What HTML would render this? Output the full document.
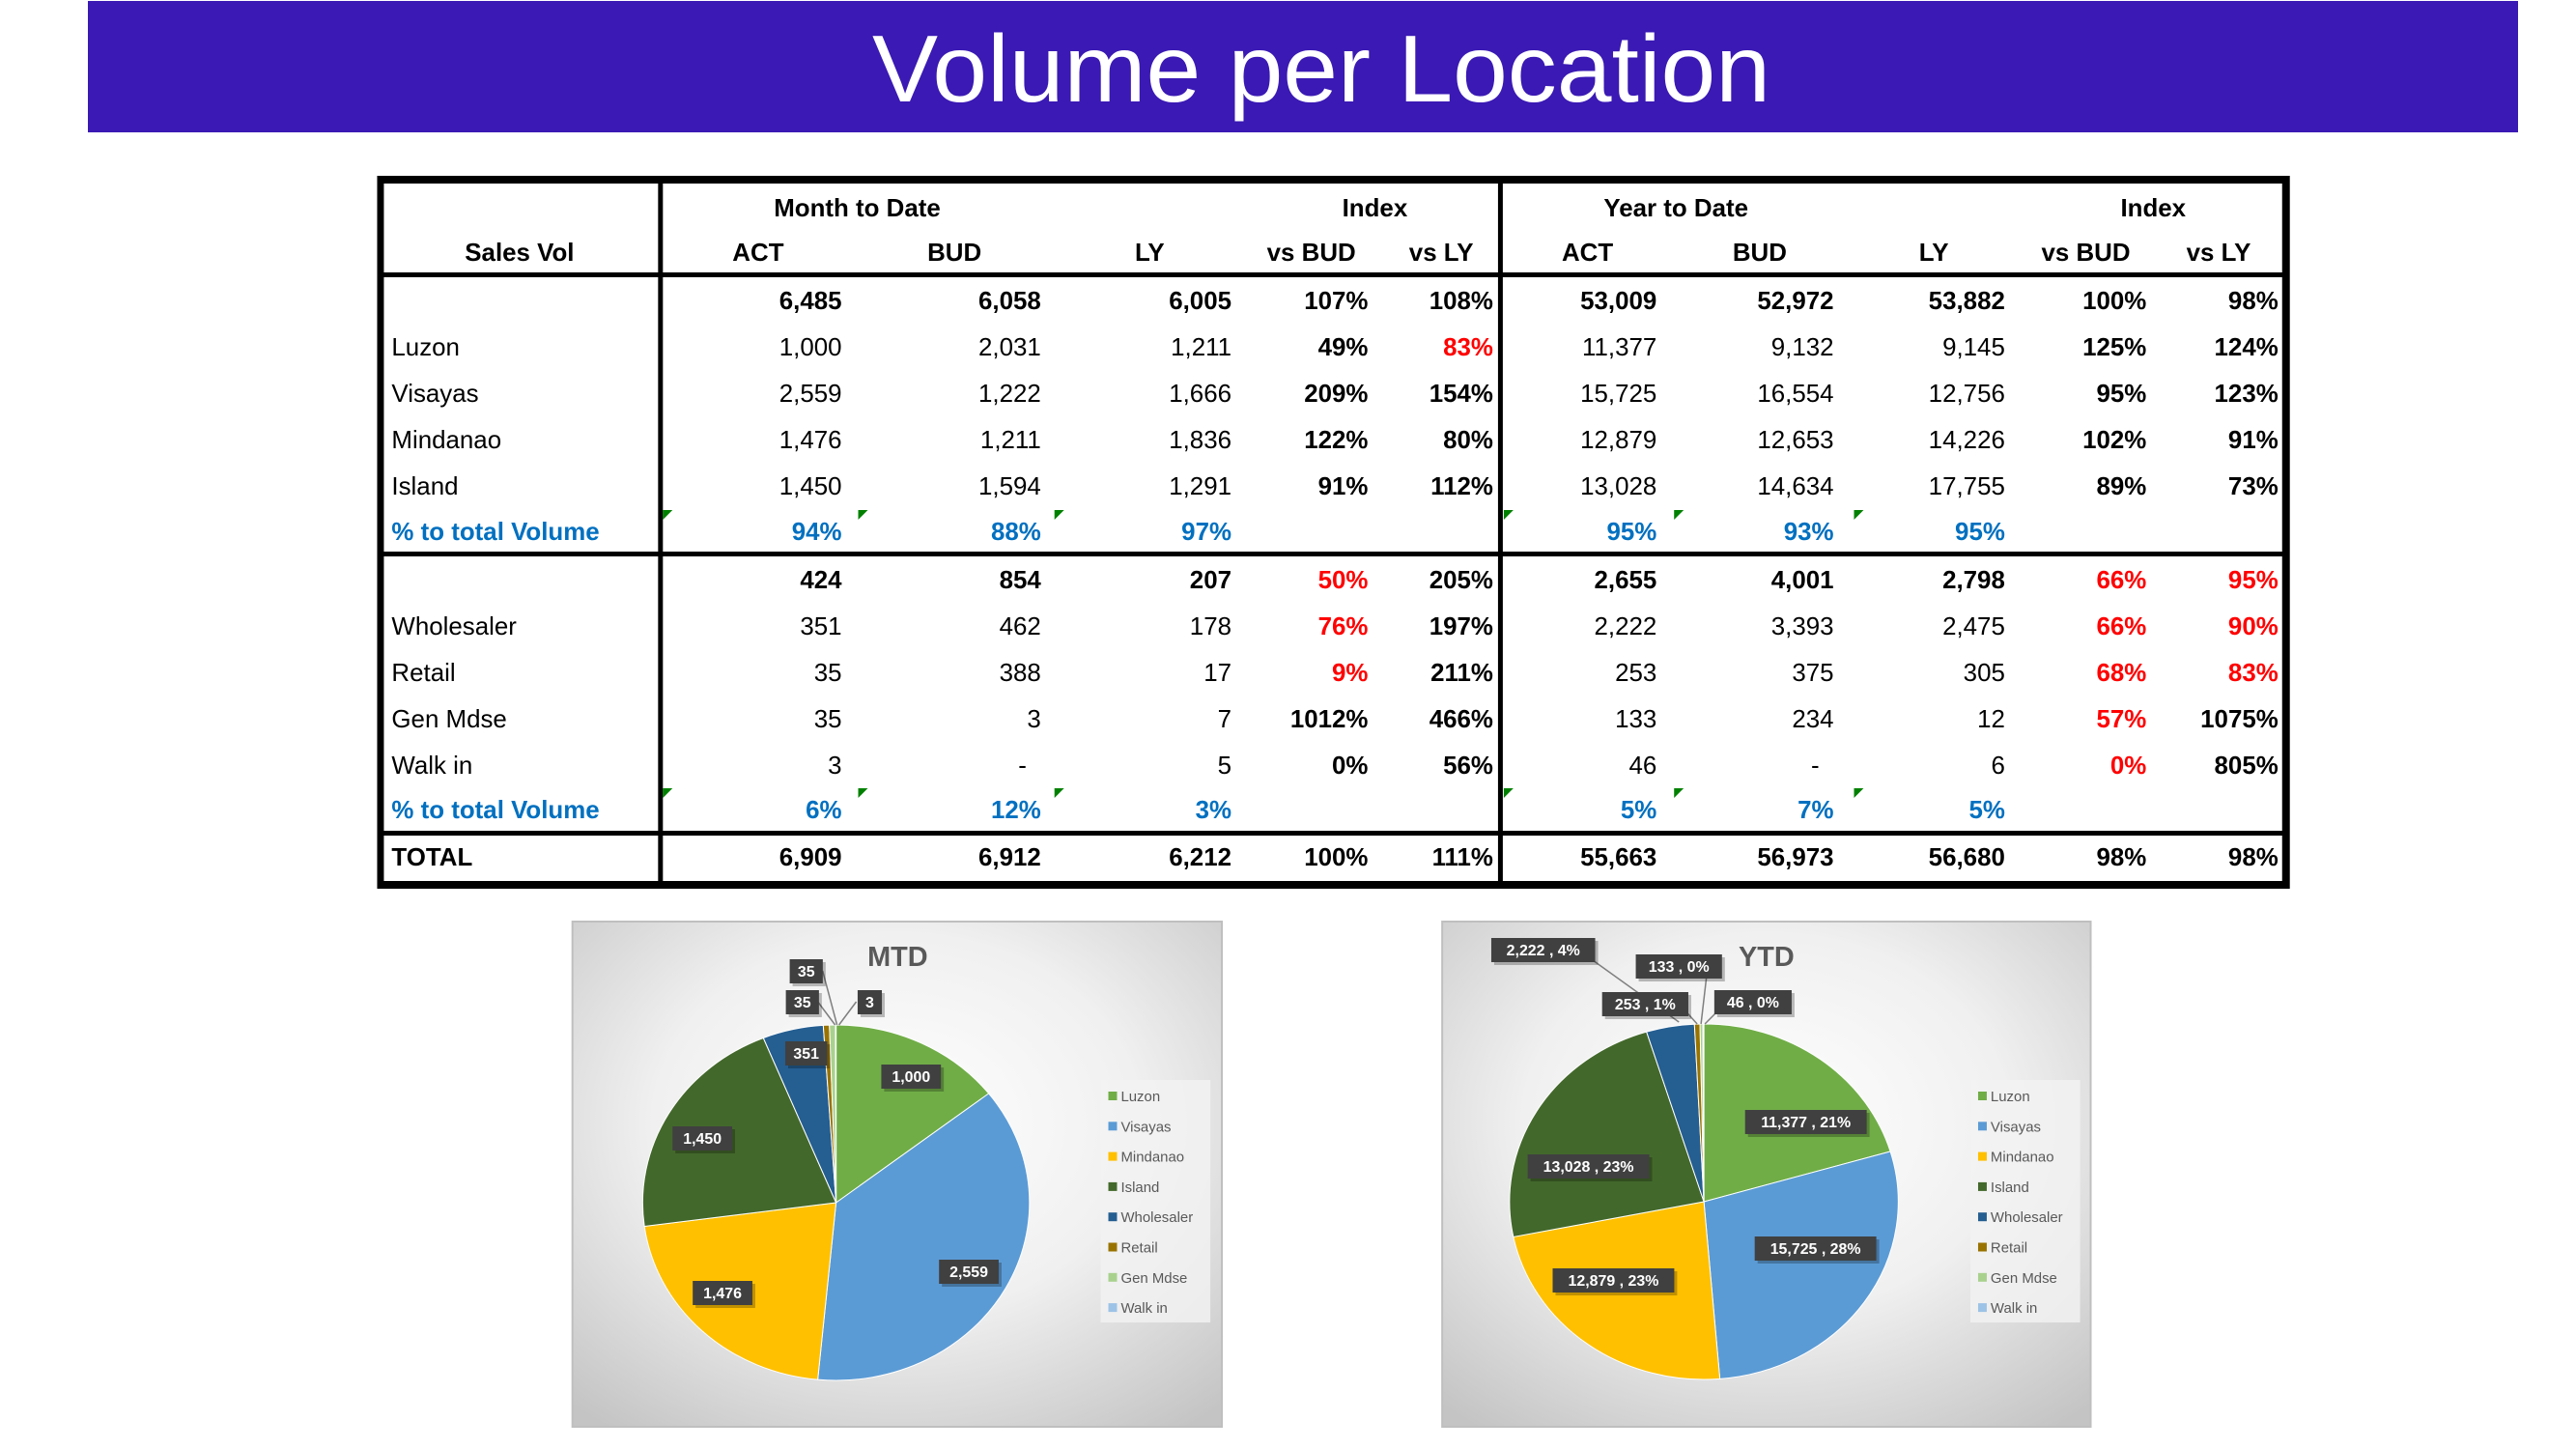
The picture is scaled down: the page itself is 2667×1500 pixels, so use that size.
<!DOCTYPE html>
<html><head><meta charset="utf-8"><style>
html,body{margin:0;padding:0;background:#fff;}
svg{display:block;}
text{font-family:"Liberation Sans",sans-serif;}
</style></head><body>
<svg id="s" width="2667" height="1500" viewBox="0 0 2667 1500" xmlns="http://www.w3.org/2000/svg">
<defs>
<radialGradient id="bg" cx="50%" cy="40%" r="75%">
<stop offset="0" stop-color="#ffffff"/><stop offset="0.5" stop-color="#f0f0f0"/><stop offset="1" stop-color="#c4c4c4"/>
</radialGradient>
</defs>
<rect x="91" y="1" width="2516" height="136" fill="#3a19b4"/>
<text x="1368" y="105" font-size="98" fill="#fff" text-anchor="middle" textLength="930" lengthAdjust="spacingAndGlyphs">Volume per Location</text>
<g transform="scale(0.9961,1)">
<g id="tbl"></g>
<rect x="595" y="954" width="675" height="523" fill="url(#bg)" stroke="#bfbfbf" stroke-width="2"/>
<rect x="1499" y="954" width="674" height="523" fill="url(#bg)" stroke="#bfbfbf" stroke-width="2"/>
<g id="pies"></g>
</g>
</svg>
<script>
var NS="http://www.w3.org/2000/svg";
function el(p,t,a,txt){var e=document.createElementNS(NS,t);for(var k in a)e.setAttribute(k,a[k]);if(txt!=null)e.textContent=txt;p.appendChild(e);return e;}
var T=document.getElementById('tbl');
var L=395,R=2378;
el(T,'rect',{x:L,y:182,width:R-L,height:8,fill:'#000'});
el(T,'rect',{x:L,y:912,width:R-L,height:8,fill:'#000'});
el(T,'rect',{x:L-3,y:182,width:7,height:738,fill:'#000'});
el(T,'rect',{x:R-6,y:182,width:8,height:738,fill:'#000'});
el(T,'rect',{x:684,y:182,width:5,height:738,fill:'#000'});
el(T,'rect',{x:1557,y:182,width:5,height:738,fill:'#000'});
[285,574,863].forEach(function(y){el(T,'rect',{x:L,y:y-3,width:R-L,height:5,fill:'#000'});});
var fs=26;
function tx(x,y,s,o){o=o||{};el(T,'text',{x:x,y:y,'font-size':fs,'font-weight':o.b?'bold':'normal','text-anchor':o.a||'end',fill:o.c||'#000'},s);}
tx(540,270,'Sales Vol',{b:1,a:'middle'});
tx(891,224,'Month to Date',{b:1,a:'middle'});tx(1429,224,'Index',{b:1,a:'middle'});
tx(1742,224,'Year to Date',{b:1,a:'middle'});tx(2238,224,'Index',{b:1,a:'middle'});
[['ACT',788],['BUD',992],['LY',1195],['vs BUD',1363],['vs LY',1498],['ACT',1650],['BUD',1829],['LY',2010],['vs BUD',2168],['vs LY',2306]].forEach(function(h){tx(h[1],270,h[0],{b:1,a:'middle'});});
var cx=[875,1082,1280,1422,1552,1722,1906,2084,2231,2368];
var ys=[311,359,407,455,503,550,600,648,696,744,792,838,887];
var rows=[
['',['6,485','6,058','6,005','107%','108%','53,009','52,972','53,882','100%','98%'],'t'],
['Luzon',['1,000','2,031','1,211','49%','83%r','11,377','9,132','9,145','125%','124%']],
['Visayas',['2,559','1,222','1,666','209%','154%','15,725','16,554','12,756','95%','123%']],
['Mindanao',['1,476','1,211','1,836','122%','80%','12,879','12,653','14,226','102%','91%']],
['Island',['1,450','1,594','1,291','91%','112%','13,028','14,634','17,755','89%','73%']],
['% to total Volume',['94%','88%','97%','','','95%','93%','95%','',''],'p'],
['',['424','854','207','50%r','205%','2,655','4,001','2,798','66%r','95%r'],'t'],
['Wholesaler',['351','462','178','76%r','197%','2,222','3,393','2,475','66%r','90%r']],
['Retail',['35','388','17','9%r','211%','253','375','305','68%r','83%r']],
['Gen Mdse',['35','3','7','1012%','466%','133','234','12','57%r','1075%']],
['Walk in',['3','-','5','0%','56%','46','-','6','0%r','805%']],
['% to total Volume',['6%','12%','3%','','','5%','7%','5%','',''],'p'],
['TOTAL',['6,909','6,912','6,212','100%','111%','55,663','56,973','56,680','98%','98%'],'t']
];
rows.forEach(function(r,i){var y=ys[i]+9;var ty=r[2];
 if(r[0])tx(407,y,r[0],{a:'start',b:ty=='p'||ty=='t',c:ty=='p'?'#0070c0':'#000'});
 r[1].forEach(function(v,j){if(!v)return;var red=v.slice(-1)=='r';if(red)v=v.slice(0,-1);
  var x=cx[j];if(v=='-')x-=15;
  tx(x,y,v,{b:ty=='t'||ty=='p'||j==3||j==4||j==8||j==9,c:ty=='p'?'#0070c0':(red?'#ff0000':'#000')});});
 if(ty=='p'){[689,892,1096,1563,1740,1927].forEach(function(x){el(T,'path',{d:'M'+x+' '+(ys[i]-22)+'h10l-10 10z',fill:'#008000'});});}
});
var P=document.getElementById('pies');
var cols=['#70ad47','#5b9bd5','#ffc000','#43682b','#255e91','#997300','#a9d18e','#9dc3e6'];
var names=['Luzon','Visayas','Mindanao','Island','Wholesaler','Retail','Gen Mdse','Walk in'];
function pie(cx,cy,rx,ry,vals){var tot=vals.reduce(function(a,b){return a+b},0),a=-Math.PI/2;
 vals.forEach(function(v,i){var b=a+v/tot*2*Math.PI;var x1=cx+rx*Math.cos(a),y1=cy+ry*Math.sin(a),x2=cx+rx*Math.cos(b),y2=cy+ry*Math.sin(b);
 el(P,'path',{d:'M'+cx+' '+cy+'L'+x1+' '+y1+'A'+rx+' '+ry+' 0 '+((b-a)>Math.PI?1:0)+' 1 '+x2+' '+y2+'Z',fill:cols[i],stroke:'#fff','stroke-width':1});a=b;});}
pie(869,1245,201,184,[1000,2559,1476,1450,351,35,35,3]);
pie(1771,1244,202,184,[11377,15725,12879,13028,2222,253,133,46]);
function legend(x,y){el(P,'rect',{x:x,y:y,width:114,height:251,fill:'#f2f2f2',opacity:0.8});
 names.forEach(function(n,i){var yy=y+17+i*31.3;el(P,'rect',{x:x+8,y:yy-5,width:9,height:9,fill:cols[i]});
 el(P,'text',{x:x+21,y:yy+5,'font-size':15,fill:'#595959'},n);});}
legend(1144,1118);legend(2048,1118);
el(P,'text',{x:933,y:1000,'font-size':29,'font-weight':'bold','text-anchor':'middle',fill:'#595959'},'MTD');
el(P,'text',{x:1836,y:1000,'font-size':29,'font-weight':'bold','text-anchor':'middle',fill:'#595959'},'YTD');
[[855,1005,870,1061],[850,1037,868,1061],[890,1037,872,1061],[1640,983,1745,1058],[1775,1000,1768,1060],[1745,1039,1764,1060],[1795,1037,1772,1060]].forEach(function(l){
 el(P,'polyline',{points:l[0]+','+l[1]+' '+l[2]+','+l[3],fill:'none',stroke:'#7f7f7f','stroke-width':1.5});});
function lab(x,y,s){var w=s.length*9.2+16;el(P,'rect',{x:x-w/2+3,y:y-12+3,width:w,height:25,fill:'#000',opacity:0.25});
 el(P,'rect',{x:x-w/2,y:y-12,width:w,height:25,fill:'#404040'});
 el(P,'text',{x:x,y:y+6,'font-size':16,'font-weight':'bold','text-anchor':'middle',fill:'#fff'},s);}
[[838,1005,'35'],[834,1037,'35'],[904,1037,'3'],[838,1090,'351'],[947,1114,'1,000'],[730,1178,'1,450'],[751,1338,'1,476'],[1007,1316,'2,559'],
 [1604,983,'2,222 , 4%'],[1745,1000,'133 , 0%'],[1710,1039,'253 , 1%'],[1822,1037,'46 , 0%'],[1877,1161,'11,377 , 21%'],[1651,1207,'13,028 , 23%'],[1677,1325,'12,879 , 23%'],[1887,1292,'15,725 , 28%']].forEach(function(l){lab(l[0],l[1],l[2]);});
</script>
</body></html>
